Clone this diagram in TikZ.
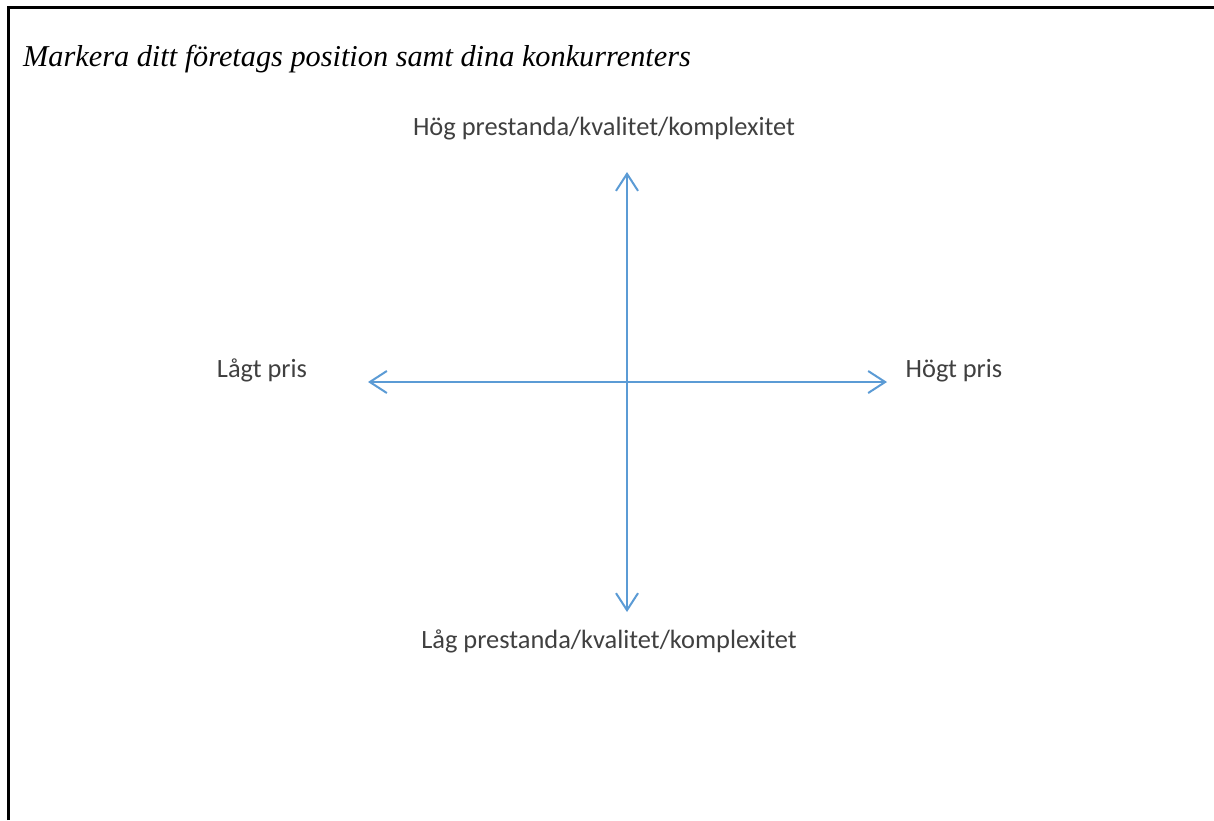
\documentclass[tikz,border=0pt]{standalone}
\usepackage{fontspec}
\setmainfont{Liberation Serif}
\newfontfamily\lblfont{Carlito}
\usetikzlibrary{arrows.meta}
\definecolor{axisblue}{HTML}{5B9BD5}
\definecolor{lblgray}{HTML}{404040}
\tikzset{
  axis/.style={draw=axisblue, line width=2pt, {Straight Barb[length=17pt,width=22pt,line width=2pt]}-{Straight Barb[length=17pt,width=22pt,line width=2pt]}},
  lbl/.style={font=\lblfont\fontsize{26.4}{30}\selectfont, text=lblgray, inner sep=0pt},
  frame/.style={draw=black, line width=3pt}
}
\begin{document}
\begin{tikzpicture}[x=1pt,y=-1pt]
\useasboundingbox (0,0) rectangle (1214,820);
\fill[white] (0,0) rectangle (1214,820);
\draw[frame] (8.5,820) -- (8.5,7.5) -- (1214,7.5);
\node[anchor=base west, inner sep=0pt, font=\itshape\fontsize{30.3}{34}\selectfont] (title) at (23,66) {Markera ditt företags position samt dina konkurrenters};
\coordinate (top) at (627,172);
\coordinate (bot) at (627,612);
\coordinate (lft) at (368,382);
\coordinate (rgt) at (887,382);
\draw[axis] (bot) -- (top);
\draw[axis] (lft) -- (rgt);
\node[lbl, anchor=base] (hq) at (604,135) {Hög prestanda/kvalitet/komplexitet};
\node[lbl, anchor=base] (lq) at (609,648) {Låg prestanda/kvalitet/komplexitet};
\node[lbl, anchor=base] (lp) at (262,377) {Lågt pris};
\node[lbl, anchor=base] (hp) at (954,377) {Högt pris};
\end{tikzpicture}
\end{document}
